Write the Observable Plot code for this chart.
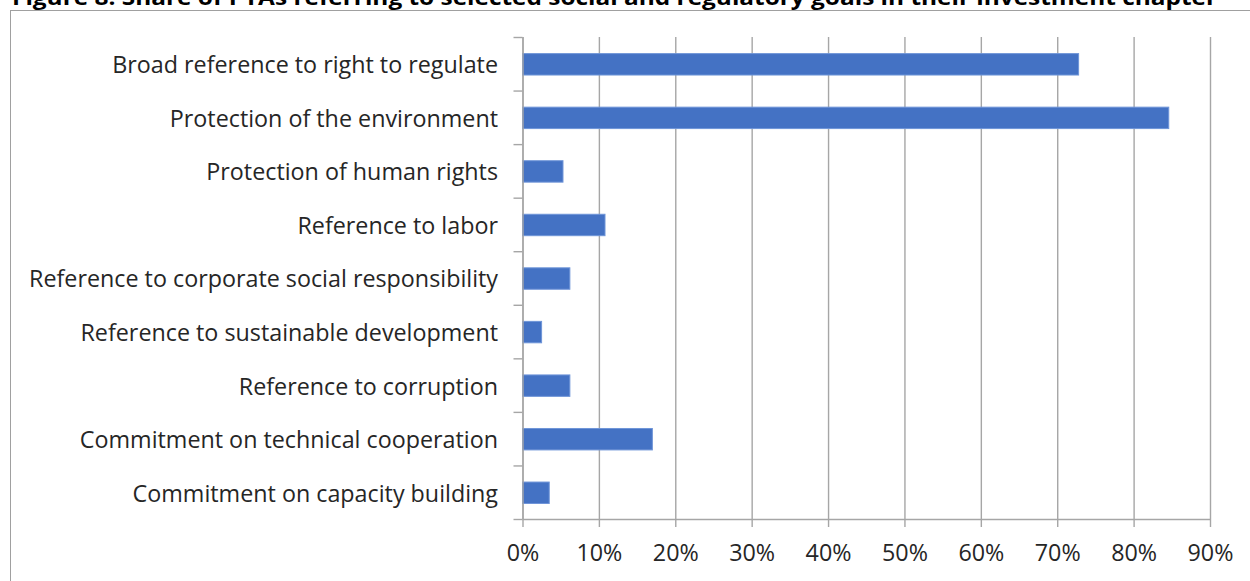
<!DOCTYPE html>
<html>
<head>
<meta charset="utf-8">
<script src="https://cdn.jsdelivr.net/npm/d3@7"></script>
<script src="https://cdn.jsdelivr.net/npm/@observablehq/plot@0.6"></script>
<style>
  html, body { margin: 0; padding: 0; background: #fff; overflow: hidden; }
  #wrap { position: relative; width: 1250px; height: 581px; }
  #title { position: absolute; left: 0; top: 0; }
  #frame { position: absolute; left: 10px; top: 10px; width: 1300px; height: 700px;
           border-top: 1.5px solid #a0a0a0; border-left: 1.5px solid #a0a0a0; }
  #chart { position: absolute; left: 0; top: 0; }
</style>
</head>
<body>
<div id="wrap">
  <div id="frame"></div>
  <svg id="title" width="1250" height="12">
    <text x="12" y="5" textLength="1205" lengthAdjust="spacingAndGlyphs"
      style="font-family: 'Open Sans', Lato, sans-serif; font-weight: bold; font-size: 21px; fill: #000;">Figure 8. Share of PTAs referring to selected social and regulatory goals in their investment chapter</text>
  </svg>
  <div id="chart"></div>
</div>
<script>
const categories = [
  "Broad reference to right to regulate",
  "Protection of the environment",
  "Protection of human rights",
  "Reference to labor",
  "Reference to corporate social responsibility",
  "Reference to sustainable development",
  "Reference to corruption",
  "Commitment on technical cooperation",
  "Commitment on capacity building"
];
const shares = [0.728, 0.846, 0.053, 0.108, 0.062, 0.025, 0.062, 0.170, 0.035];
const xTicks = [0, 0.1, 0.2, 0.3, 0.4, 0.5, 0.6, 0.7, 0.8, 0.9];

const data = categories.map((c, i) => ({category: c, index: i, value: shares[i]}));
const gray = "#a6a6a6";

const chart = Plot.plot({
  width: 1250,
  height: 581,
  marginLeft: 522.5,
  marginRight: 40,
  marginTop: 37,
  marginBottom: 62,
  style: {fontFamily: "'Open Sans', Lato, sans-serif", fontSize: "23.3px", color: "#262626", background: "transparent"},
  x: {domain: [0, 0.9], axis: null, label: null},
  y: {domain: [0, 9], reverse: true, axis: null, label: null},
  marks: [
    Plot.gridX(xTicks, {stroke: gray, strokeOpacity: 1, strokeWidth: 1.4}),
    Plot.rectX(data, {
      x1: 0, x2: "value",
      y1: d => d.index + 0.31, y2: d => d.index + 0.71,
      fill: "#4472c4", stroke: "#6f95d8", strokeWidth: 1
    }),
    Plot.ruleX([0], {stroke: gray, strokeWidth: 1.4}),
    Plot.ruleY([9], {stroke: gray, strokeWidth: 1.4}),
    Plot.axisY(d3.range(10), {tickSize: 9, tickFormat: () => "", label: null, stroke: gray, strokeWidth: 1.4, strokeOpacity: 1}),
    Plot.axisY(d3.range(9).map(i => i + 0.5), {
      tickSize: 0, tickPadding: 25, label: null, tickFormat: v => categories[Math.floor(v)],
      fill: "#262626", dy: 1.5
    }),
    Plot.axisX(xTicks, {
      tickSize: 8, tickPadding: 17, label: null, tickFormat: d3.format(".0%"),
      stroke: gray, strokeWidth: 1.4, strokeOpacity: 1, fill: "#262626"
    })
  ]
});
document.getElementById("chart").appendChild(chart);
</script>
</body>
</html>
